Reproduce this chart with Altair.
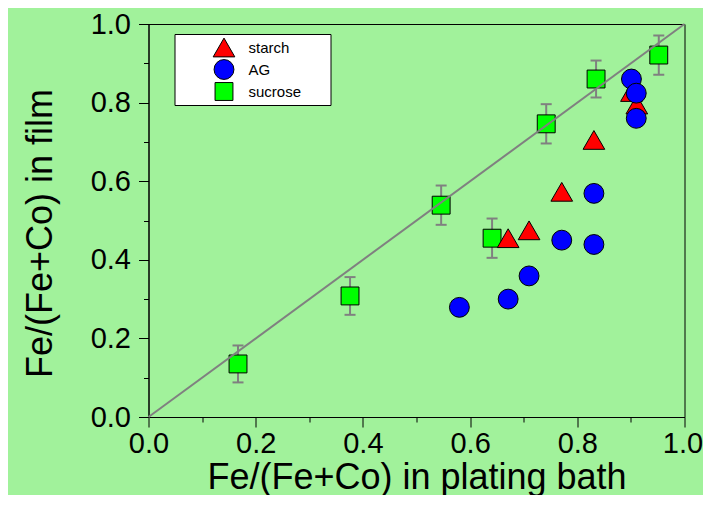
import altair as alt
import pandas as pd

# ---------------- data ----------------
series_names = ["starch", "AG", "sucrose"]
series_colors = ["#ff0000", "#0000ff", "#00ff00"]
series_shapes = ["triangle-up", "circle", "square"]

sucrose_x = [0.167, 0.376, 0.546, 0.641, 0.742, 0.835, 0.952]
sucrose_y = [0.135, 0.308, 0.539, 0.455, 0.746, 0.860, 0.921]
sucrose_err = [0.047, 0.048, 0.050, 0.050, 0.050, 0.047, 0.050]

starch_x = [0.671, 0.710, 0.771, 0.831, 0.901, 0.911]
starch_y = [0.455, 0.475, 0.573, 0.705, 0.827, 0.795]

ag_x = [0.580, 0.671, 0.710, 0.771, 0.831, 0.831, 0.901, 0.910, 0.910]
ag_y = [0.279, 0.300, 0.359, 0.450, 0.569, 0.439, 0.860, 0.824, 0.760]

diag_x = [0.0, 1.0]
diag_y = [0.0, 1.0]

axis_values = [0.0, 0.1, 0.2, 0.3, 0.4, 0.5, 0.6, 0.7, 0.8, 0.9, 1.0]

# ---------------- tables ----------------
rows = []
for name, xs, ys in [("sucrose", sucrose_x, sucrose_y),
                     ("starch", starch_x, starch_y),
                     ("AG", ag_x, ag_y)]:
    for i, (xv, yv) in enumerate(zip(xs, ys)):
        rows.append({"series": name, "x": xv, "y": yv, "order": len(rows)})
pts = pd.DataFrame(rows)

err = pd.DataFrame({
    "x": sucrose_x,
    "lo": [y - e for y, e in zip(sucrose_y, sucrose_err)],
    "hi": [y + e for y, e in zip(sucrose_y, sucrose_err)],
})
diag = pd.DataFrame({"x": diag_x, "y": diag_y})

BG = "#a1f29b"
FONT = "Arial"
GRAY = "#808080"

xscale = alt.Scale(domain=[0, 1], nice=False, zero=False)
yscale = alt.Scale(domain=[0, 1], nice=False, zero=False)

minor_test = "round(datum.value*10) % 2 == 1"

x_axis = alt.Axis(
    title="Fe/(Fe+Co) in plating bath",
    values=axis_values, format=".1f",
    labelExpr="round(datum.value*10) % 2 == 0 ? datum.label : ''",
    tickSize={"condition": {"test": minor_test, "value": 5}, "value": 10},
    labelOffset={"condition": {"test": "datum.value >= 1", "value": -2}, "value": 0},
    grid=False, labelFontSize=29, titleFontSize=36, labelPadding=2,
    titleBaseline="alphabetic", titleY=71,
    labelFlush=False, labelOverlap=False,
)
y_axis = alt.Axis(
    title="Fe/(Fe+Co) in film",
    values=axis_values, format=".1f",
    labelExpr="round(datum.value*10) % 2 == 0 ? datum.label : ''",
    tickSize={"condition": {"test": minor_test, "value": 5}, "value": 10},
    grid=False, labelFontSize=29, titleFontSize=36, labelPadding=8,
    titlePadding=31, titleY=209,
    labelFlush=False, labelOverlap=False,
)


def X(field):
    return alt.X(field, type="quantitative", scale=xscale, axis=x_axis)


def Y(field):
    return alt.Y(field, type="quantitative", scale=yscale, axis=y_axis)


leg = alt.Legend(
    title="..", titleOrient="right", titlePadding=4, titleFontSize=40,
    titleColor="white",
    orient="none", legendX=26, legendY=10,
    fillColor="white", strokeColor="black",
    padding=2, symbolOffset=36, labelOffset=13, rowPadding=-8,
    labelFont=FONT, labelFontSize=15, labelColor="black",
    symbolStrokeColor="black", symbolStrokeWidth=1,
)

bars = alt.Chart(err).mark_rule(color=GRAY, strokeWidth=2).encode(
    x=X("x"), y=Y("lo"), y2="hi:Q"
)
cap_lo = alt.Chart(err).mark_tick(color=GRAY, thickness=2, size=11,
                                  orient="horizontal", opacity=1).encode(
    x=X("x"), y=Y("lo")
)
cap_hi = alt.Chart(err).mark_tick(color=GRAY, thickness=2, size=11,
                                  orient="horizontal", opacity=1).encode(
    x=X("x"), y=Y("hi")
)

points = alt.Chart(pts).mark_point(
    filled=True, stroke="black", strokeWidth=1, opacity=1
).encode(
    x=X("x"), y=Y("y"),
    color=alt.Color("series:N", scale=alt.Scale(domain=series_names, range=series_colors), legend=leg),
    shape=alt.Shape("series:N", scale=alt.Scale(domain=series_names, range=series_shapes), legend=leg),
    size=alt.Size("series:N", scale=alt.Scale(domain=series_names, range=[470, 320, 256]), legend=leg),
    order=alt.Order("order:Q"),
)

line = alt.Chart(diag).mark_line(color=GRAY, strokeWidth=2).encode(
    x=X("x"), y=Y("y")
)

chart = alt.layer(bars, cap_lo, cap_hi, points, line).properties(
    width=536, height=393,
    autosize=alt.AutoSizeParams(type="none"),
    padding={"left": 140.5, "top": 16, "right": 18.5, "bottom": 78},
    background=BG,
).configure_view(
    stroke="black", strokeWidth=1
).configure_axis(
    domainColor="black", tickColor="black", labelColor="black", titleColor="black",
    labelFont=FONT, titleFont=FONT, titleFontWeight="normal", domainWidth=1, tickWidth=1,
)

chart.save("out.html", embed_options={"renderer": "svg", "actions": False})
